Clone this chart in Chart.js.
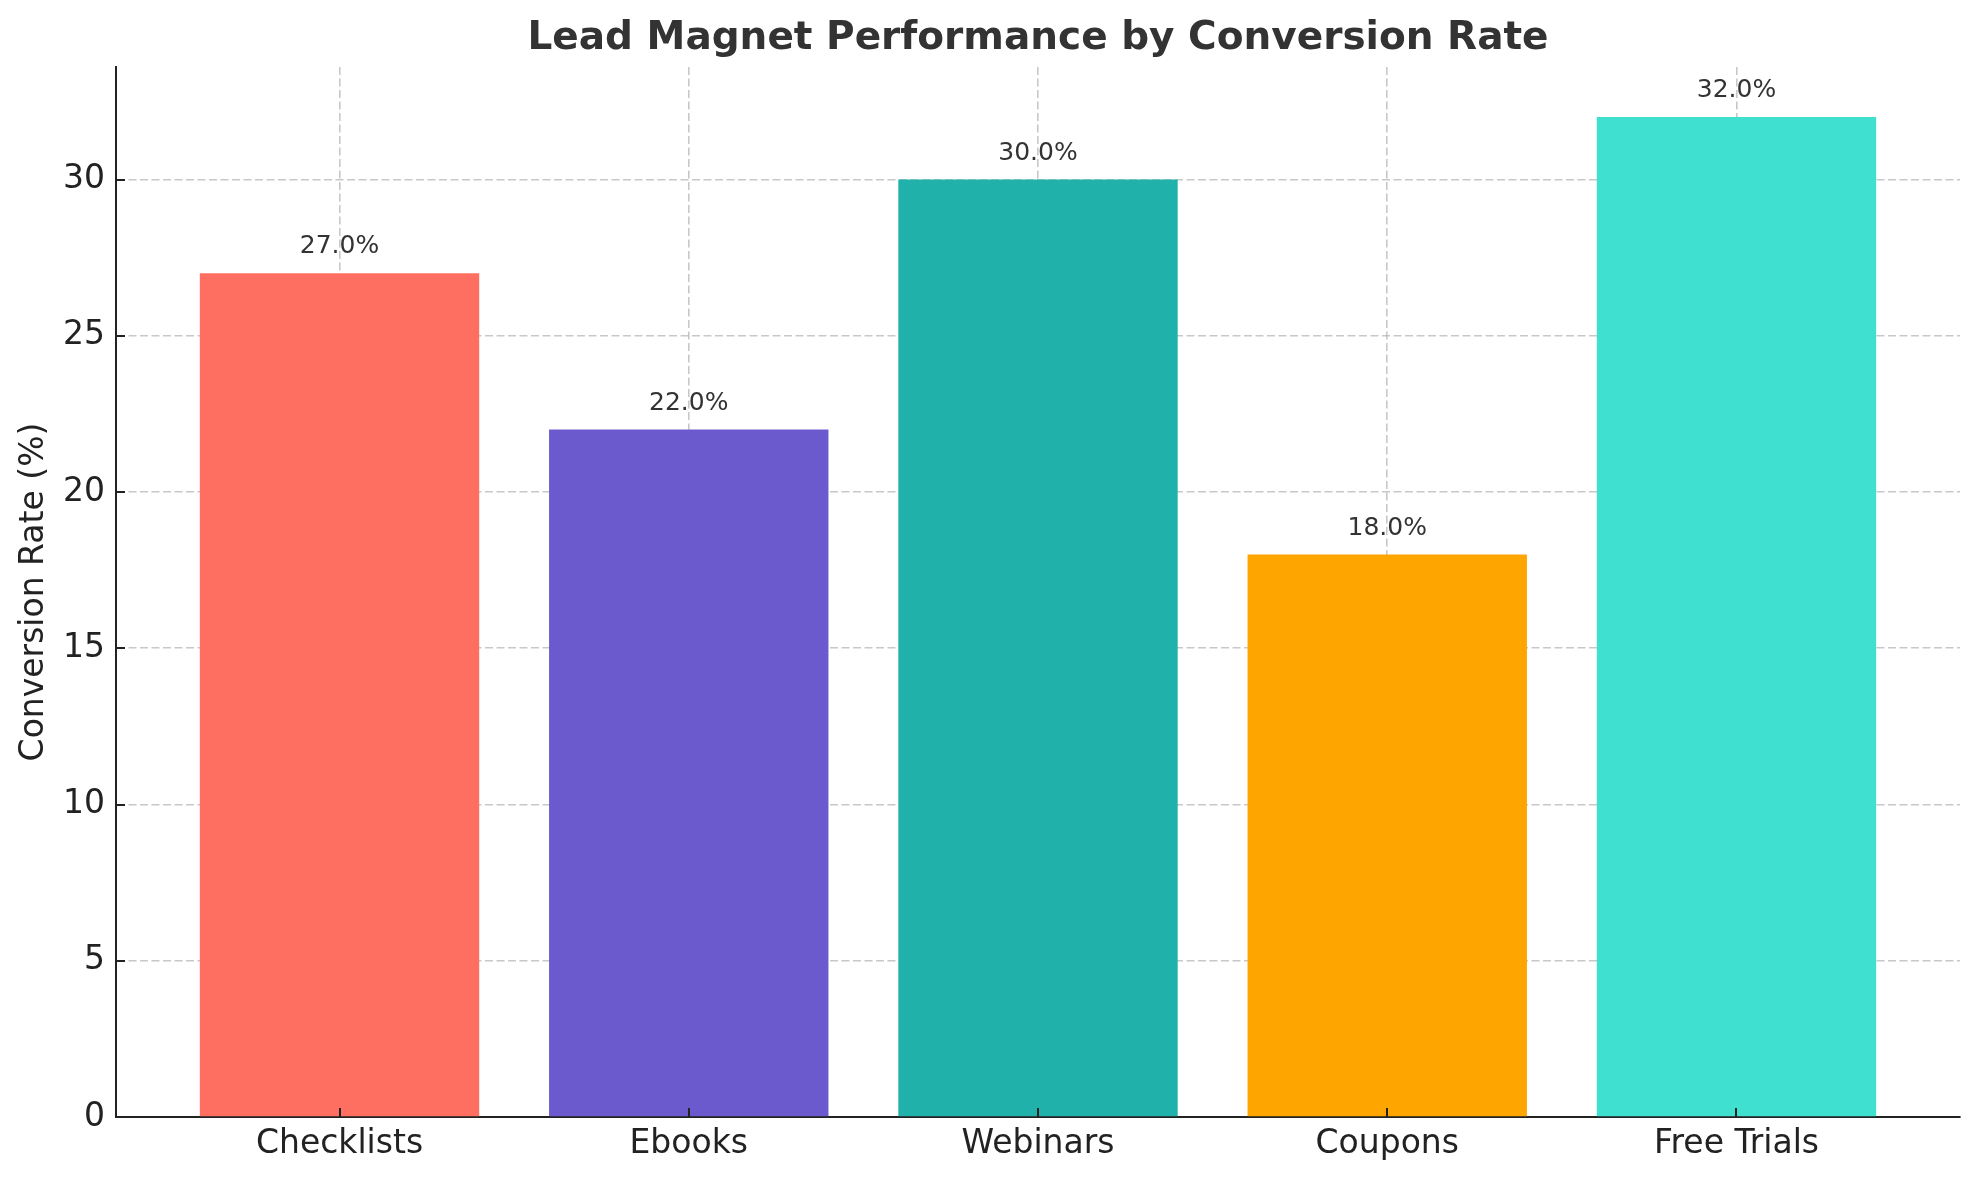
<!DOCTYPE html>
<html>
<head>
<meta charset="utf-8">
<script src="https://cdn.jsdelivr.net/npm/chart.js@4/dist/chart.umd.min.js"></script>
<style>
  html, body { margin: 0; padding: 0; background: #fff; }
  #wrap { width: 1979px; height: 1180px; }
</style>
</head>
<body>
<div id="wrap"><canvas id="chart" width="1979" height="1180"></canvas></div>
<script>
// data
const categories = ['Checklists', 'Ebooks', 'Webinars', 'Coupons', 'Free Trials']
const rates = [27, 22, 30, 18, 32]
const barColors = ['#FF6F61', '#6A5ACD', '#20B2AA', '#FFA500', '#40E0D0']
const yTicks = [0, 5, 10, 15, 20, 25, 30]
const titleText = 'Lead Magnet Performance by Conversion Rate'
const yTitle = 'Conversion Rate (%)'

const FONT = "'DejaVu Sans', sans-serif"
const gridColor = 'rgba(176,176,176,0.7)'

// title centred over the plot area, like matplotlib does
const titlePlugin = {
    id: 'axTitle',
    afterDraw(chart){
        const ctx = chart.ctx
        const a = chart.chartArea
        ctx.save()
        ctx.font = 'bold 39px ' + FONT
        ctx.fillStyle = '#333333'
        ctx.textAlign = 'center'
        ctx.textBaseline = 'middle'
        ctx.fillText(titleText, (a.left + a.right) / 2, 39)
        ctx.restore()
    }
}

// "27.0%" labels on top of each bar
const valueLabels = {
    id: 'valueLabels',
    afterDatasetsDraw(chart){
        const ctx = chart.ctx
        const meta = chart.getDatasetMeta(0)
        ctx.save()
        ctx.font = '25px ' + FONT
        ctx.fillStyle = '#333333'
        ctx.textAlign = 'center'
        ctx.textBaseline = 'alphabetic'
        meta.data.forEach((bar, i) => {
            ctx.fillText(rates[i].toFixed(1) + '%', bar.x, bar.y - 20)
        })
        ctx.restore()
    }
}

// inward tick marks
const innerTicks = {
    id: 'innerTicks',
    afterDraw(chart){
        const ctx = chart.ctx
        const xs = chart.scales.x
        const ys = chart.scales.y
        const a = chart.chartArea
        ctx.save()
        ctx.strokeStyle = '#222222'
        ctx.lineWidth = 2
        ctx.beginPath()
        yTicks.forEach(v => {
            const y = Math.round(ys.getPixelForValue(v))
            ctx.moveTo(a.left, y)
            ctx.lineTo(a.left + 9, y)
        })
        categories.forEach((c, i) => {
            const x = Math.round(xs.getPixelForValue(i))
            ctx.moveTo(x, a.bottom)
            ctx.lineTo(x, a.bottom - 9)
        })
        ctx.stroke()
        ctx.restore()
    }
}

new Chart(document.getElementById('chart'), {
    type: 'bar',
    data: {
        datasets: [{
            data: rates.map((v, i) => ({ x: i, y: v })),
            backgroundColor: barColors,
            borderWidth: 0,
            categoryPercentage: 0.8,
            barPercentage: 1.0
        }]
    },
    options: {
        responsive: false,
        animation: false,
        devicePixelRatio: 1,
        layout: { padding: { top: 67, right: 19, bottom: 15, left: 15 } },
        plugins: {
            legend: { display: false },
            tooltip: { enabled: false },
            title: { display: false }
        },
        scales: {
            x: {
                type: 'linear',
                min: -0.64,
                max: 4.64,
                offset: false,
                z: 1,
                afterBuildTicks: axis => { axis.ticks = categories.map((c, i) => ({ value: i })) },
                afterFit: axis => { axis.height = 48 },
                ticks: {
                    callback: v => categories[v] ?? '',
                    font: { family: FONT, size: 33 },
                    color: '#222222',
                    padding: 8,
                    maxRotation: 0,
                    autoSkip: false
                },
                grid: {
                    offset: false,
                    color: gridColor,
                    lineWidth: 1.6,
                    drawTicks: false
                },
                border: { display: true, color: '#222222', width: 2, dash: [8, 3.5] }
            },
            y: {
                min: 0,
                max: 33.6,
                z: 1,
                afterBuildTicks: axis => { axis.ticks = yTicks.map(v => ({ value: v })) },
                afterFit: axis => { axis.width = 101 },
                ticks: {
                    font: { family: FONT, size: 33 },
                    color: '#222222',
                    padding: 11
                },
                grid: {
                    color: gridColor,
                    lineWidth: 1.6,
                    drawTicks: false
                },
                border: { display: true, color: '#222222', width: 2, dash: [8, 3.5] },
                title: {
                    display: true,
                    text: yTitle,
                    font: { family: FONT, size: 33 },
                    color: '#222222',
                    padding: { top: 0, bottom: 0 }
                }
            }
        }
    },
    plugins: [titlePlugin, valueLabels, innerTicks]
})
</script>
</body>
</html>
